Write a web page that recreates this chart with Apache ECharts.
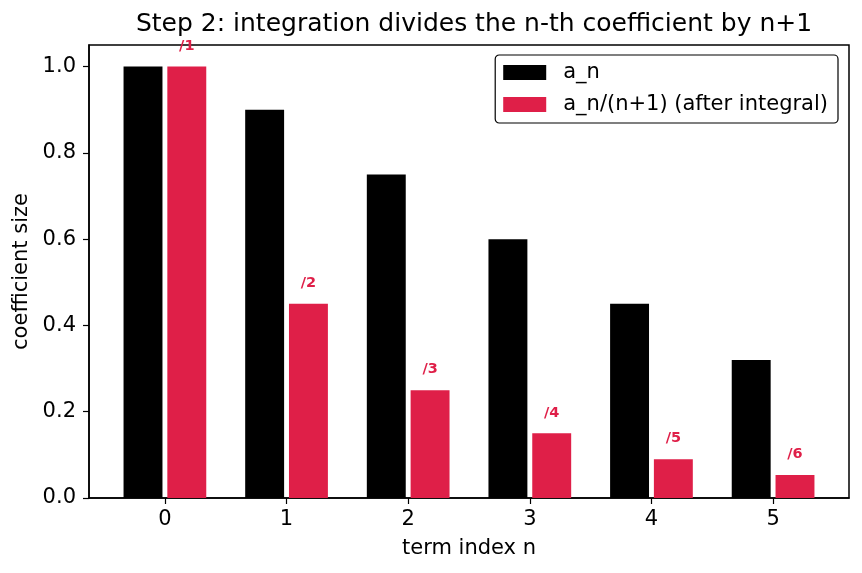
<!DOCTYPE html>
<html>
<head>
<meta charset="utf-8">
<script src="https://cdn.jsdelivr.net/npm/echarts@6/dist/echarts.min.js"></script>
<style>
  html, body { margin: 0; padding: 0; background: #fff; }
  #chart { width: 862px; height: 573px; }
</style>
</head>
<body>
<div id="chart"></div>
<script>
  const termIndex = [0, 1, 2, 3, 4, 5]
  const coeffs = [1.0, 0.9, 0.75, 0.6, 0.45, 0.32]
  const integrated = [1.0, 0.45, 0.25, 0.15, 0.09, 0.0533]
  const divLabels = ['/1', '/2', '/3', '/4', '/5', '/6']
  const yTicks = [0, 0.2, 0.4, 0.6, 0.8, 1.0]

  const RED = '#DF1F48'
  const font = 'DejaVu Sans'
  const offset = 0.18
  const barW = 0.32

  const chart = echarts.init(document.getElementById('chart'))

  const barItem = (shift, withLabel) => (params, api) => {
    const x = api.value(0) + shift
    const top = api.coord([x, api.value(1)])
    const base = api.coord([x, 0])
    const w = api.size([barW, 0])[0]
    const children = [{
      type: 'rect',
      shape: { x: top[0] - w / 2, y: top[1], width: w, height: base[1] - top[1] },
      style: { fill: api.visual('color') }
    }]
    if (withLabel) {
      const lp = api.coord([x, api.value(1) + 0.03])
      children.push({
        type: 'text',
        x: lp[0], y: lp[1],
        style: {
          text: divLabels[params.dataIndex],
          fill: RED, fontFamily: font, fontWeight: 'bold', fontSize: 14.5,
          align: 'center', verticalAlign: 'bottom'
        }
      })
    }
    return { type: 'group', children }
  }

  chart.setOption({
    animation: false,
    title: {
      text: 'Step 2: integration divides the n-th coefficient by n+1',
      left: 469, top: 7, textAlign: 'center',
      textStyle: { fontFamily: font, fontSize: 25, fontWeight: 'normal', color: '#000' }
    },
    legend: {
      orient: 'vertical',
      right: 24, top: 55,
      itemWidth: 43, itemHeight: 15, itemGap: 11,
      padding: [7, 10, 8, 8],
      borderColor: '#000', borderWidth: 1.2, borderRadius: 4,
      icon: 'rect',
      textStyle: { fontFamily: font, fontSize: 21, color: '#000', padding: [0, 0, 0, 12] },
      data: ['a_n', 'a_n/(n+1) (after integral)']
    },
    grid: {
      left: 89, right: 13, top: 45, bottom: 75,
      show: true, borderColor: '#000', borderWidth: 1.5, backgroundColor: 'transparent'
    },
    xAxis: {
      type: 'value', min: -0.624, max: 5.624,
      name: 'term index n', nameLocation: 'middle', nameGap: 40,
      nameTextStyle: { fontFamily: font, fontSize: 21, color: '#000' },
      axisLine: { show: true, onZero: false, lineStyle: { color: '#000', width: 1.5 } },
      axisTick: { show: true, length: 6, customValues: termIndex, lineStyle: { color: '#000', width: 1.2 } },
      axisLabel: { customValues: termIndex, fontFamily: font, fontSize: 21, color: '#000', margin: 11 },
      splitLine: { show: false }
    },
    yAxis: {
      type: 'value', min: 0, max: 1.05,
      name: 'coefficient size', nameLocation: 'middle', nameGap: 55,
      nameTextStyle: { fontFamily: font, fontSize: 21, color: '#000' },
      axisLine: { show: true, onZero: false, lineStyle: { color: '#000', width: 1.5 } },
      axisTick: { show: true, length: 6, customValues: yTicks, lineStyle: { color: '#000', width: 1.2 } },
      axisLabel: {
        customValues: yTicks, fontFamily: font, fontSize: 21, color: '#000', margin: 13,
        formatter: v => v.toFixed(1)
      },
      splitLine: { show: false }
    },
    series: [
      {
        name: 'a_n', type: 'custom',
        itemStyle: { color: '#000' },
        encode: { x: 0, y: 1 },
        data: termIndex.map((n, i) => [n, coeffs[i]]),
        renderItem: barItem(-offset, false)
      },
      {
        name: 'a_n/(n+1) (after integral)', type: 'custom',
        itemStyle: { color: RED },
        encode: { x: 0, y: 1 },
        data: termIndex.map((n, i) => [n, integrated[i]]),
        renderItem: barItem(offset, true)
      }
    ]
  })
</script>
</body>
</html>
